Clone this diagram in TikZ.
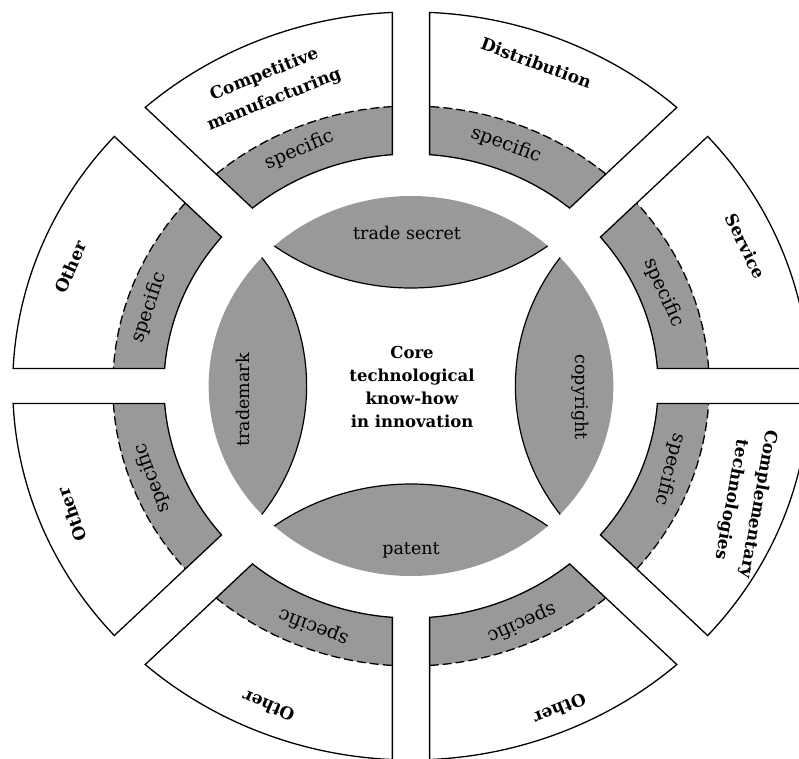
\documentclass[tikz,border=0pt]{standalone}
\usepackage{fontspec}
\setmainfont{DejaVu Serif}
\definecolor{bandgray}{gray}{0.6}

% ring radii (vertical units; the ring is stretched horizontally by the scope)
\def\rIn{232}
\def\rMid{280}
\def\rOut{374}

% one ring sector: #1 start angle, #2 end angle, #3/#4 half gap at start/end
\newcommand\ringsector[4]{%
  \pgfmathsetmacro\sbO{#1+asin(#3/\rOut)}%
  \pgfmathsetmacro\seO{#2-asin(#4/\rOut)}%
  \pgfmathsetmacro\sbM{#1+asin(#3/\rMid)}%
  \pgfmathsetmacro\seM{#2-asin(#4/\rMid)}%
  \pgfmathsetmacro\sbI{#1+asin(#3/\rIn)}%
  \pgfmathsetmacro\seI{#2-asin(#4/\rIn)}%
  \fill[bandgray] (\sbM:\rMid) arc[start angle=\sbM, end angle=\seM, radius=\rMid]
    -- (\seI:\rIn) arc[start angle=\seI, end angle=\sbI, radius=\rIn] -- cycle;
  \draw[ringline] (\sbO:\rOut) arc[start angle=\sbO, end angle=\seO, radius=\rOut]
    -- (\seI:\rIn) arc[start angle=\seI, end angle=\sbI, radius=\rIn] -- cycle;
  \draw[ringline, dash pattern=on 9pt off 4pt] (\sbM:\rMid) arc[start angle=\sbM, end angle=\seM, radius=\rMid];
}

\begin{document}
\begin{tikzpicture}[x=1pt, y=1pt,
  ringline/.style={line width=1.3pt, black},
  lensline/.style={line width=1.2pt, black},
  seglabel/.style={font=\bfseries\fontsize{17}{27}\selectfont, align=center, inner sep=0pt},
  speclabel/.style={font=\fontsize{19}{21}\selectfont, inner sep=0pt},
  lenslabel/.style={font=\fontsize{17.5}{20}\selectfont, inner sep=0pt},
  corelabel/.style={font=\bfseries\fontsize{16.5}{23.3}\selectfont, align=center, inner sep=0pt}]
\useasboundingbox (0,0) rectangle (799,758);
\fill[white] (0,0) rectangle (799,758);

\begin{scope}[shift={(411,372)}, xscale=1.065]
  % outer ring of eight sectors
  \ringsector{0}{45}{17.5}{20.5}
  \ringsector{45}{90}{20.5}{17.5}
  \ringsector{90}{135}{17.5}{20.5}
  \ringsector{135}{180}{20.5}{17.5}
  \ringsector{180}{225}{17.5}{20.5}
  \ringsector{225}{270}{20.5}{17.5}
  \ringsector{270}{315}{17.5}{20.5}
  \ringsector{315}{360}{20.5}{17.5}

  % central disk with four lens-shaped caps
  \begin{scope}
    \clip (0,0) circle[radius=190];
    \foreach \a in {0,90,180,270} {
      \fill[bandgray] (\a:315) circle[radius=217];
      \draw[lensline] (\a:315) circle[radius=217];
    }
  \end{scope}

  % sector labels
  \node[seglabel, rotate=21.5] (compman) at (114:327) {Competitive\\manufacturing};
  \node[seglabel, rotate=-20] (distrib) at (70:344) {Distribution};
  \node[seglabel, rotate=-64] (service) at (24:344) {Service};
  \node[seglabel, rotate=-100] (complem) at (-20.3:334) {Complementary\\technologies};
  \node[seglabel, rotate=-158] (otherbr) at (-66.6:352) {Other};
  \node[seglabel, rotate=157] (otherbl) at (-112.7:347) {Other};
  \node[seglabel, rotate=110] (otherll) at (-158:343) {Other};
  \node[seglabel, rotate=66] (otherul) at (159.6:341) {Other};

  % "specific" labels in the grey bands
  \node[speclabel, rotate=23] (speccm) at (114:258) {specific};
  \node[speclabel, rotate=-20] (specdi) at (69.7:257) {specific};
  \node[speclabel, rotate=-66] (specse) at (21.5:255) {specific};
  \node[speclabel, rotate=-105] (specco) at (-19:257) {specific};
  \node[speclabel, rotate=-156] (specbr) at (-66.3:259) {specific};
  \node[speclabel, rotate=159] (specbl) at (-110.8:258) {specific};
  \node[speclabel, rotate=110] (specll) at (-159.2:260) {specific};
  \node[speclabel, rotate=72] (specul) at (162.3:258) {specific};

  % lens labels
  \node[lenslabel] (tsecret) at (91.4:153) {trade secret};
  \node[lenslabel, rotate=90] (tmark) at (185:158) {trademark};
  \node[lenslabel, rotate=-90] (copyr) at (-4:159) {copyright};
  \node[lenslabel] (patent) at (-90:164) {patent};

  % centre
  \node[corelabel] (core) at (1,-1) {Core\\technological\\know-how\\in innovation};
\end{scope}
\end{tikzpicture}
\end{document}
